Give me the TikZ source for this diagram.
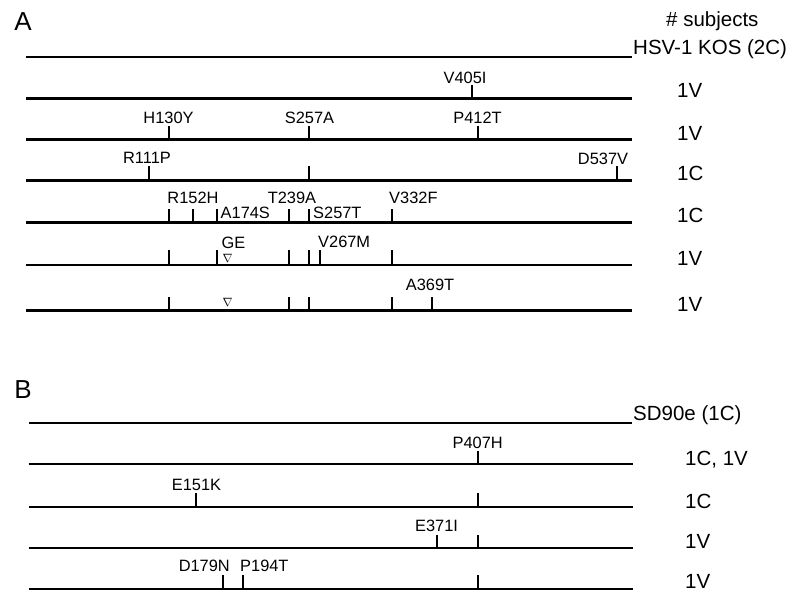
\documentclass[tikz,border=0pt]{standalone}
\usepackage{fontspec}
\setmainfont{Liberation Sans}
\tikzset{gene/.style={line width=2.2pt},mut/.style={line width=2.2pt},
lbl/.style={inner sep=0pt,anchor=base,font=\fontsize{16.4}{18}\selectfont},
count/.style={inner sep=0pt,anchor=base west,font=\fontsize{20.5}{24}\selectfont},
panel/.style={inner sep=0pt,font=\fontsize{26}{30}\selectfont},
gap/.style={inner sep=0pt,font=\fontsize{12}{14}\selectfont}}
\begin{document}
\begin{tikzpicture}[x=1pt,y=-1pt]
\useasboundingbox(0,0)rectangle(797,592);
% A
\node[panel](pa)at(23,22){A};
\node[count](subj)at(666,26){\# subjects};
\draw[gene](26,57)--(632,57);
\node[count](kos)at(633,54){HSV-1 KOS (2C)};
\draw[gene](26,98.5)--(632,98.5);
\draw[mut](471.7,98.5)--(471.7,85);
\node[lbl](v405i)at(465,83){V405I};
\node[count](a2)at(677,97){1V};
\draw[gene](26,139.5)--(632,139.5);
\draw[mut](169,139.5)--(169,125.5);
\draw[mut](309,139.5)--(309,125.5);
\draw[mut](478,139.5)--(478,125.5);
\node[lbl](h130y)at(168.5,123){H130Y};
\node[lbl](s257a)at(309.5,123){S257A};
\node[lbl](p412t)at(477.5,123){P412T};
\node[count](a3)at(677,140){1V};
\draw[gene](26,180.5)--(632,180.5);
\draw[mut](148.7,180.5)--(148.7,166);
\draw[mut](309,180.5)--(309,166);
\draw[mut](617.3,180.5)--(617.3,166);
\node[lbl](r111p)at(147,163.5){R111P};
\node[lbl](d537v)at(603,164){D537V};
\node[count](a4)at(677,180){1C};
\draw[gene](26,222.5)--(632,222.5);
\draw[mut](169,222.5)--(169,209);
\draw[mut](193.3,222.5)--(193.3,209);
\draw[mut](217.3,222.5)--(217.3,209);
\draw[mut](289.3,222.5)--(289.3,209);
\draw[mut](309,222.5)--(309,209);
\draw[mut](392,222.5)--(392,209);
\node[lbl](r152h)at(193,203){R152H};
\node[lbl](t239a)at(292,203){T239A};
\node[lbl,anchor=base west](v332f)at(389,203){V332F};
\node[lbl,anchor=base west](a174s)at(220.5,218){A174S};
\node[lbl,anchor=base west](s257t)at(313,218){S257T};
\node[count](a5)at(677,222){1C};
\draw[gene](26,265)--(632,265);
\draw[mut](169,265)--(169,250);
\draw[mut](217.3,265)--(217.3,250);
\draw[mut](289.3,265)--(289.3,250);
\draw[mut](309,265)--(309,250);
\draw[mut](320,265)--(320,250);
\draw[mut](392,265)--(392,250);
\node[lbl,anchor=base west](ge)at(221.5,248){GE};
\node[gap](del1)at(227.5,258){$\nabla$};
\node[lbl,anchor=base west](v267m)at(318,247){V267M};
\node[count](a6)at(677,265){1V};
\draw[gene](26,310.5)--(632,310.5);
\draw[mut](169,310.5)--(169,296.5);
\draw[mut](289.3,310.5)--(289.3,296.5);
\draw[mut](309,310.5)--(309,296.5);
\draw[mut](392,310.5)--(392,296.5);
\draw[mut](432.3,310.5)--(432.3,296.5);
\node[gap](del2)at(227.5,302){$\nabla$};
\node[lbl](a369t)at(430,290){A369T};
\node[count](a7)at(677,311){1V};
% B
\node[panel](pb)at(23,390){B};
\draw[gene](29,423.3)--(632,423.3);
\node[count](sd90)at(633,420){SD90e (1C)};
\draw[gene](28.7,464.3)--(633,464.3);
\draw[mut](477.7,464.3)--(477.7,450.5);
\node[lbl](p407h)at(477.7,448){P407H};
\node[count](b2)at(685,465){1C, 1V};
\draw[gene](28.7,506.7)--(633,506.7);
\draw[mut](195.7,506.7)--(195.7,493);
\draw[mut](477.7,506.7)--(477.7,493);
\node[lbl](e151k)at(196.5,490.5){E151K};
\node[count](b3)at(685,508){1C};
\draw[gene](28.7,548.3)--(633,548.3);
\draw[mut](437.3,548.3)--(437.3,534.5);
\draw[mut](477.7,548.3)--(477.7,534.5);
\node[lbl](e371i)at(436.5,531.5){E371I};
\node[count](b4)at(685,548){1V};
\draw[gene](28.7,589)--(633,589);
\draw[mut](222.7,589)--(222.7,575);
\draw[mut](242.7,589)--(242.7,575);
\draw[mut](477.7,589)--(477.7,575);
\node[lbl,anchor=base east](d179n)at(230,571.5){D179N};
\node[lbl,anchor=base west](p194t)at(240,571.5){P194T};
\node[count](b5)at(685,588.5){1V};
\end{tikzpicture}
\end{document}
